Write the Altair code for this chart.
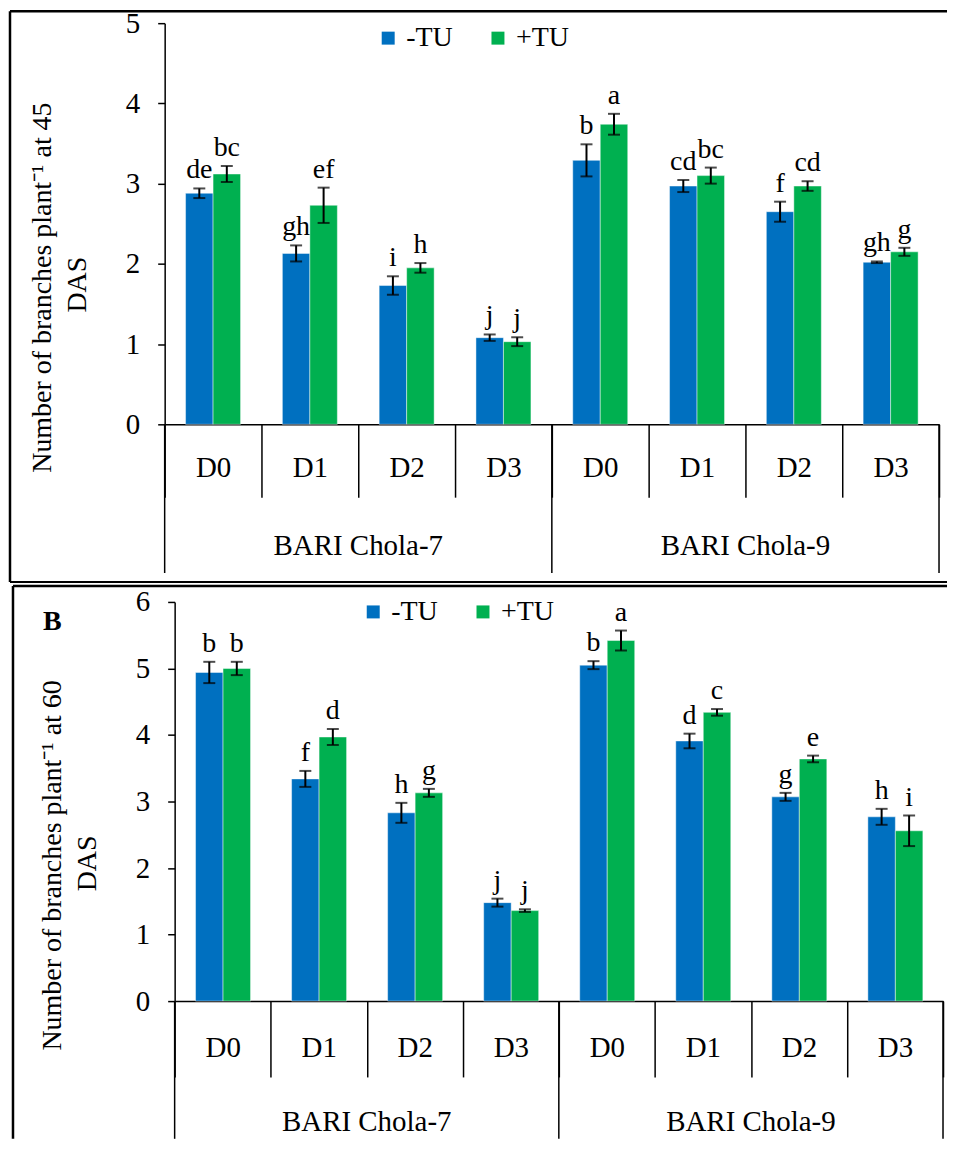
import altair as alt
import pandas as pd

groups = ["BARI Chola-7", "BARI Chola-9"]
doses = ["D0", "D1", "D2", "D3"]
treatments = ["-TU", "+TU"]
colors = ["#0070C0", "#00B050"]

# Panel A: branches plant-1 at 45 DAS (order: Chola-7 D0..D3, Chola-9 D0..D3)
a_minus = [2.88, 2.13, 1.73, 1.08, 3.29, 2.97, 2.65, 2.02]
a_minus_err = [0.06, 0.10, 0.115, 0.04, 0.20, 0.075, 0.125, 0.01]
a_plus = [3.12, 2.73, 1.95, 1.03, 3.74, 3.10, 2.97, 2.15]
a_plus_err = [0.10, 0.22, 0.06, 0.055, 0.13, 0.10, 0.06, 0.05]
a_minus_let = ["de", "gh", "i", "j", "b", "cd", "f", "gh"]
a_plus_let = ["bc", "ef", "h", "j", "a", "bc", "cd", "g"]
a_title = ["Number of branches plant⁻¹ at 45", "DAS"]

# Panel B: branches plant-1 at 60 DAS
b_minus = [4.94, 3.34, 2.83, 1.48, 5.05, 3.91, 3.07, 2.77]
b_minus_err = [0.16, 0.12, 0.15, 0.06, 0.06, 0.11, 0.06, 0.12]
b_plus = [5.00, 3.97, 3.13, 1.36, 5.42, 4.34, 3.64, 2.56]
b_plus_err = [0.10, 0.12, 0.06, 0.02, 0.15, 0.05, 0.05, 0.23]
b_minus_let = ["b", "f", "h", "j", "b", "d", "g", "h"]
b_plus_let = ["b", "d", "g", "j", "a", "c", "e", "i"]
b_title = ["Number of branches plant⁻¹ at 60", "DAS"]

cats = [f"{g}|{d}" for g in groups for d in doses]
FONT = "Liberation Serif"


def make_df(minus, minus_err, plus, plus_err, minus_let, plus_let):
    rows = []
    for i, c in enumerate(cats):
        for t, v, e, l in ((treatments[0], minus[i], minus_err[i], minus_let[i]),
                           (treatments[1], plus[i], plus_err[i], plus_let[i])):
            rows.append({"cat": c, "trt": t, "value": v, "lo": v - e, "hi": v + e, "letter": l})
    return pd.DataFrame(rows)


def panel(df, ymax, title_lines, p):
    W, H, sx = p["W"], p["H"], p["sx"]
    xaxis = alt.Axis(title=None, labelExpr="split(datum.label, '|')[1]", labelAngle=0,
                     labelFont=FONT, labelFontSize=29, labelColor="black",
                     domainColor="black", domainWidth=1.5, tickColor="black", tickWidth=1.5,
                     tickSize=p["tick"], tickBand="extent", labelPadding=p["lpad"])

    def X(bp=None):
        kw = dict(sort=cats, scale=alt.Scale(paddingInner=0, paddingOuter=0, range=[sx, W]),
                  axis=xaxis)
        if bp is not None:
            kw["bandPosition"] = bp
        return alt.X("cat:N", **kw)

    xo = alt.XOffset("trt:N", sort=treatments,
                     scale=alt.Scale(paddingInner=0, paddingOuter=p["po"]))
    yaxis = alt.Axis(values=list(range(ymax + 1)), format="d", grid=False, title=None,
                     offset=-sx, tickSize=7, tickColor="black", tickWidth=1.5,
                     domainColor="black", domainWidth=1.5,
                     labelFont=FONT, labelFontSize=29, labelColor="black", labelPadding=18)
    Y = lambda f: alt.Y(f, scale=alt.Scale(domain=[0, ymax], nice=False), axis=yaxis)

    base = alt.Chart(df)
    bars = base.mark_bar(stroke="white", strokeOpacity=0.45, strokeWidth=1).encode(
        x=X(), xOffset=xo, y=Y("value:Q"),
        color=alt.Color("trt:N", sort=treatments,
                        scale=alt.Scale(domain=treatments, range=colors),
                        legend=alt.Legend(title=None, orient="none", direction="horizontal",
                                          legendX=p["lx"], legendY=p["ly"],
                                          symbolType="square", symbolSize=169,
                                          symbolStrokeWidth=0, labelFont=FONT,
                                          labelFontSize=28, labelColor="black",
                                          labelOffset=4, columnPadding=31, padding=0)))
    err = base.mark_rule(color="black", strokeWidth=2).encode(
        x=X(), xOffset=xo, y=Y("lo:Q"), y2="hi:Q")
    cap_lo = base.mark_tick(color="black", thickness=2, size=12).encode(
        x=X(), xOffset=xo, y=Y("lo:Q"))
    cap_hi = base.mark_tick(color="black", thickness=2, size=12).encode(
        x=X(), xOffset=xo, y=Y("hi:Q"))
    letters = base.mark_text(font=FONT, fontSize=28, color="black", baseline="alphabetic",
                             dy=-10).encode(x=X(), xOffset=xo, y=Y("hi:Q"), text="letter:N")

    gstart = pd.DataFrame({"cat": [f"{g}|{doses[0]}" for g in groups]})
    gend = pd.DataFrame({"cat": [cats[-1]]})
    gmid = pd.DataFrame({"cat": [f"{g}|{doses[2]}" for g in groups], "name": groups})
    glines = alt.Chart(gstart).mark_rule(color="black", strokeWidth=1.5).encode(
        x=X(0), y=alt.value(H), y2=alt.value(H + p["glen"]))
    glast = alt.Chart(gend).mark_rule(color="black", strokeWidth=1.5).encode(
        x=X(1), y=alt.value(H), y2=alt.value(H + p["glen"]))
    gtext = alt.Chart(gmid).mark_text(font=FONT, fontSize=29, color="black",
                                      baseline="alphabetic").encode(
        x=X(0), y=alt.value(H + p["gy"]), text="name:N")

    # y-axis title (two lines, rotated)
    t1 = alt.Chart(pd.DataFrame({"t": [title_lines[0]]})).mark_text(
        font=FONT, fontSize=28, color="black", angle=270, align="center",
        baseline="middle").encode(x=alt.value(p["t1x"]), y=alt.value(p["t1y"]), text="t:N")
    t2 = alt.Chart(pd.DataFrame({"t": [title_lines[1]]})).mark_text(
        font=FONT, fontSize=28, color="black", angle=270, align="center",
        baseline="middle").encode(x=alt.value(p["t2x"]), y=alt.value(p["t2y"]), text="t:N")

    box = pd.DataFrame({"box": [1]})
    bt = alt.Chart(box).mark_rule(color="black", strokeWidth=2.5).encode(
        x=alt.value(p["bx"]), x2=alt.value(p["bx2"]), y=alt.value(p["by"]))
    bl = alt.Chart(box).mark_rule(color="black", strokeWidth=2.5).encode(
        x=alt.value(p["bx"]), y=alt.value(p["by"]), y2=alt.value(H + p["by2"]))
    layers = [bt, bl, bars, err, cap_lo, cap_hi, letters, glines, glast, gtext, t1, t2]
    if p.get("bb"):
        layers.append(alt.Chart(box).mark_rule(color="black", strokeWidth=2).encode(
            x=alt.value(p["bx"]), x2=alt.value(p["bx2"]), y=alt.value(H + p["by2"])))
    if p.get("label"):
        lab = pd.DataFrame({"panel": [p["label"]]})
        layers.append(alt.Chart(lab).mark_text(font=FONT, fontSize=28, fontWeight="bold",
                                               color="black", align="left",
                                               baseline="alphabetic").encode(
            x=alt.value(p["labx"]), y=alt.value(28), text="panel:N"))
    return alt.layer(*layers).properties(width=W, height=H)


# top: plot origin at page (164, ~21); bottom: y axis shifted 10 px right of the shared origin
pa = dict(W=776, H=402, sx=0, tick=73, lpad=-44, po=0.76, lx=210, ly=1,
          t1x=-122, t1y=265, t2x=-87, t2y=262,
          glen=149, gy=131, bx=-155, bx2=784, by=-12, by2=158, bb=True)
pb = dict(W=780, H=400, sx=10, tick=76, lpad=-43, po=0.72, lx=195, ly=-4,
          t1x=-112, t1y=264, t2x=-77, t2y=262, labx=-122,
          glen=138, gy=130, bx=-152, bx2=784, by=-16, by2=138, label="B")

top = panel(make_df(a_minus, a_minus_err, a_plus, a_plus_err, a_minus_let, a_plus_let), 5,
            a_title, pa)
bottom = panel(make_df(b_minus, b_minus_err, b_plus, b_plus_err, b_minus_let, b_plus_let), 6,
               b_title, pb)

chart = alt.vconcat(top, bottom, spacing=0).resolve_scale(
    color="independent").configure(padding=0, background="white").configure_view(stroke=None)

chart.save("out.html", embed_options={"renderer": "svg", "actions": False})
